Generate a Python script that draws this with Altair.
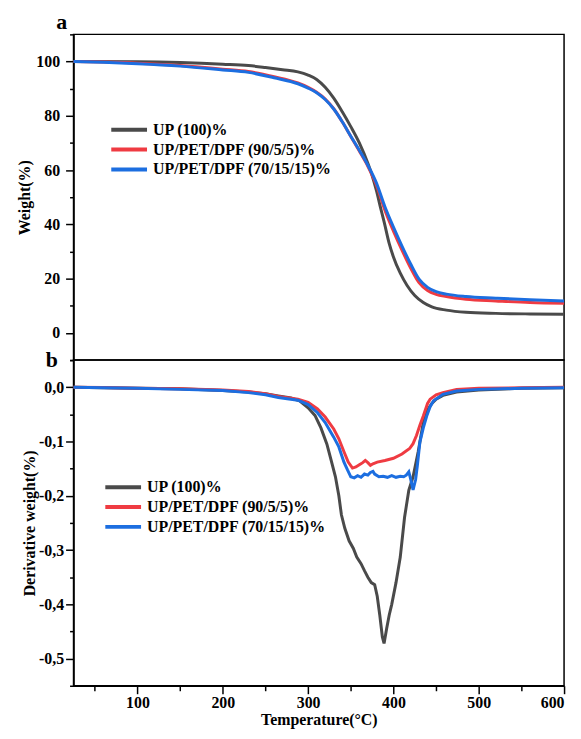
import altair as alt
import pandas as pd

series = ["UP (100)%", "UP/PET/DPF (90/5/5)%", "UP/PET/DPF (70/15/15)%"]
colors = ["#4a4a4a", "#ef3b42", "#1c6ee0"]

# ---- TGA (panel a) ----
tga_T_up = [25, 100, 150, 200, 230, 250, 270, 288, 300, 310, 320, 330, 340, 350, 360, 370, 375, 380, 385,
            389, 395, 400, 408, 416, 425, 435, 445, 462, 485, 520, 560, 600]
tga_W_up = [100, 99.9, 99.6, 99.0, 98.5, 97.8, 97.0, 96.2, 95.0, 93.4, 90.5, 86.5, 81.5, 76.0, 70.0, 62.5, 58.0,
            52.5, 46.0, 41.0, 33.0, 28.0, 22.0, 17.5, 13.8, 11.2, 9.6, 8.4, 7.6, 7.2, 7.0, 6.9]

tga_T_90 = [25, 60, 100, 150, 200, 230, 260, 288, 300, 310, 320, 330, 340, 350, 360, 370, 380, 390, 400, 410,
            420, 430, 440, 450, 462, 485, 520, 560, 600]
tga_W_90 = [100, 99.8, 99.4, 98.5, 97.2, 96.3, 94.4, 92.1, 90.5, 88.7, 86.2, 82.6, 77.8, 72.4, 67.0, 61.4, 54.5,
            45.2, 37.5, 30.5, 24.0, 18.5, 15.6, 14.2, 13.4, 12.4, 11.8, 11.2, 10.9]

tga_T_70 = [25, 60, 100, 150, 200, 230, 260, 288, 300, 310, 320, 330, 340, 350, 360, 370, 380, 390, 400, 410,
            420, 430, 440, 450, 462, 485, 520, 560, 600]
tga_W_70 = [100, 99.7, 99.2, 98.3, 96.9, 96.0, 94.0, 91.8, 90.2, 88.5, 86.0, 82.5, 77.8, 72.5, 67.3, 61.8, 55.3,
            46.5, 39.0, 32.0, 25.5, 19.8, 16.8, 15.2, 14.3, 13.4, 12.8, 12.2, 11.8]

# ---- DTG (panel b) ----
dtg_T_up = [25, 60, 100, 150, 200, 230, 250, 265, 280, 290, 300, 308, 315, 322, 327, 332, 336, 339, 343, 348,
            353, 357, 362, 366, 370, 374, 378, 381, 384, 387, 389, 392, 395, 398, 403, 408, 413, 418, 423, 429,
            435, 440, 445, 450, 458, 474, 500, 550, 600]
dtg_D_up = [0.0, -0.001, -0.002, -0.003, -0.006, -0.009, -0.012, -0.016, -0.020, -0.025, -0.038, -0.052,
            -0.075, -0.105, -0.135, -0.165, -0.200, -0.235, -0.260, -0.283, -0.297, -0.313, -0.325, -0.338,
            -0.350, -0.360, -0.364, -0.385, -0.420, -0.460, -0.472, -0.445, -0.420, -0.400, -0.360, -0.313,
            -0.240, -0.190, -0.165, -0.119, -0.065, -0.042, -0.030, -0.022, -0.015, -0.009, -0.005, -0.002,
            -0.001]

dtg_T_90 = [25, 60, 100, 150, 200, 230, 250, 265, 288, 300, 311, 320, 330, 336, 342, 347, 352, 356, 360, 364,
            367, 370, 373, 376, 381, 390, 400, 410, 419, 423, 427, 431, 435, 440, 443, 450, 458, 474, 500, 550,
            600]
dtg_D_90 = [0.0, -0.0005, -0.002, -0.003, -0.005, -0.008, -0.012, -0.017, -0.022, -0.028, -0.040, -0.055,
            -0.077, -0.095, -0.119, -0.138, -0.149, -0.147, -0.143, -0.139, -0.135, -0.139, -0.144, -0.141,
            -0.138, -0.135, -0.131, -0.123, -0.113, -0.104, -0.089, -0.070, -0.053, -0.030, -0.022, -0.014,
            -0.010, -0.004, -0.002, -0.001, 0.0]

dtg_T_70 = [25, 60, 100, 150, 200, 230, 250, 265, 288, 300, 311, 320, 330, 336, 342, 346, 350, 354, 358, 362,
            366, 370, 373, 376, 378, 383, 388, 393, 398, 403, 408, 412, 415, 418, 420, 423, 426, 428, 431, 435,
            439, 443, 447, 458, 474, 500, 550, 600]
dtg_D_70 = [0.0, -0.001, -0.002, -0.004, -0.006, -0.010, -0.014, -0.019, -0.024, -0.032, -0.047, -0.065,
            -0.092, -0.110, -0.138, -0.152, -0.165, -0.167, -0.163, -0.166, -0.160, -0.162, -0.157, -0.155,
            -0.160, -0.165, -0.164, -0.166, -0.163, -0.166, -0.164, -0.165, -0.162, -0.156, -0.168, -0.189,
            -0.170, -0.145, -0.101, -0.075, -0.053, -0.036, -0.025, -0.013, -0.007, -0.004, -0.002, -0.001]


def frame(T, V, name):
    return pd.DataFrame({"T": T, "V": V, "s": name})


tga = pd.concat([frame(tga_T_up, tga_W_up, series[0]),
                 frame(tga_T_90, tga_W_90, series[1]),
                 frame(tga_T_70, tga_W_70, series[2])], ignore_index=True)
dtg = pd.concat([frame(dtg_T_up, dtg_D_up, series[0]),
                 frame(dtg_T_90, dtg_D_90, series[1]),
                 frame(dtg_T_70, dtg_D_70, series[2])], ignore_index=True)

FONT = "Liberation Serif"
W, H = 494, 328


def legend(x, y):
    return alt.Legend(title=None, orient="none", legendX=x, legendY=y,
                      symbolType="M-3,0L3,0", symbolSize=144, symbolStrokeWidth=4,
                      labelFont=FONT, labelFontSize=16, labelFontWeight="bold", labelColor="black",
                      labelOffset=16, rowPadding=4, padding=0, labelLimit=400)


color_top = alt.Color("s:N", scale=alt.Scale(domain=series, range=colors), sort=series, legend=legend(48, 88))
color_bot = alt.Color("s:N", scale=alt.Scale(domain=series, range=colors), sort=series, legend=legend(42, 120))

x_top = alt.X("T:Q", scale=alt.Scale(domain=[25, 600], nice=False, zero=False), axis=None)
x_bot = alt.X("T:Q", scale=alt.Scale(domain=[25, 600], nice=False, zero=False),
              axis=alt.Axis(title="Temperature(°C)",
                            values=[50, 100, 150, 200, 250, 300, 350, 400, 450, 500, 550, 600],
                            labelExpr="datum.value % 100 === 0 ? datum.label : ''",
                            tickSize={"condition": {"test": "datum.value % 100 !== 0", "value": 5}, "value": 8},
                            labelPadding=1, titlePadding=1))

y_top = alt.Y("V:Q", scale=alt.Scale(domain=[-10, 110], nice=False, zero=False),
              axis=alt.Axis(title="Weight(%)",
                            values=[-10, 0, 10, 20, 30, 40, 50, 60, 70, 80, 90, 100, 110],
                            labelExpr="datum.value % 20 === 0 ? datum.label : ''",
                            tickSize={"condition": {"test": "datum.value % 20 !== 0", "value": 4}, "value": 8},
                            labelPadding=6, titlePadding=3))

y_bot = alt.Y("V:Q", scale=alt.Scale(domain=[-0.55, 0.05], nice=False, zero=False),
              axis=alt.Axis(title="Derivative weight(%)",
                            values=[-0.55, -0.5, -0.45, -0.4, -0.35, -0.3, -0.25, -0.2, -0.15, -0.1, -0.05, 0.0,
                                    0.05],
                            labelExpr="abs(round(datum.value*20)) % 2 === 0 ? "
                                      "((datum.value < -0.001 ? '-' : '') + '0,' + toString(abs(round(datum.value*10)))) : ''",
                            tickSize={"condition": {"test": "abs(round(datum.value*20)) % 2 === 1", "value": 4},
                                      "value": 8},
                            labelPadding=2, titlePadding=1))

top_lines = alt.Chart(tga).mark_line(strokeWidth=3, interpolate="monotone").encode(
    x=x_top, y=y_top, color=color_top)
top_lab = alt.Chart(pd.DataFrame({"lab": ["a"]})).mark_text(
    font=FONT, fontSize=22, fontWeight="bold", color="black", align="center", baseline="middle"
).encode(text="lab:N", x=alt.value(-12), y=alt.value(-12))
top = alt.layer(top_lines, top_lab).properties(width=W, height=H)

bot_lines = alt.Chart(dtg).mark_line(strokeWidth=3).encode(
    x=x_bot, y=y_bot, color=color_bot)
bot_lab = alt.Chart(pd.DataFrame({"lab": ["b"]})).mark_text(
    font=FONT, fontSize=22, fontWeight="bold", color="black", align="center", baseline="middle"
).encode(text="lab:N", x=alt.value(-22), y=alt.value(0))
bot = alt.layer(bot_lines, bot_lab).properties(width=W, height=H)

chart = alt.vconcat(top, bot, spacing=0, bounds="flush").resolve_scale(
    color="independent", x="independent", y="independent"
).resolve_legend(color="independent").properties(
    padding={"top": 0, "left": 8, "right": 2, "bottom": 0}
).configure_view(stroke="black", strokeWidth=1.5).configure_axis(
    grid=False, domainColor="black", domainWidth=1.5, tickColor="black", tickWidth=1.5,
    labelFont=FONT, labelFontSize=16, labelFontWeight="bold", labelColor="black",
    titleFont=FONT, titleFontSize=16, titleFontWeight="bold", titleColor="black"
)

chart.save("out.html", embed_options={"renderer": "svg", "actions": False})
